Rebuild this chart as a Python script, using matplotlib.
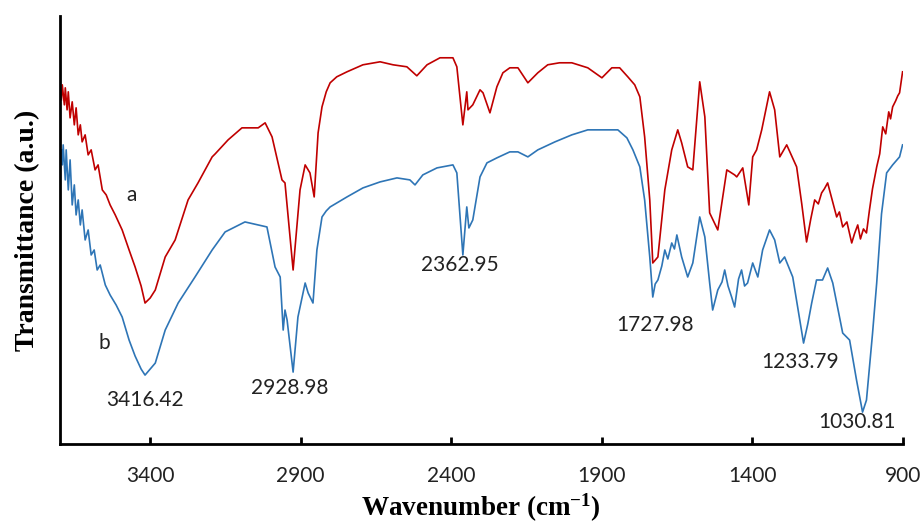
import matplotlib
matplotlib.use("Agg")
import matplotlib.pyplot as plt

# FTIR spectra, transmittance in arbitrary units
wn_a = [3695, 3692, 3685, 3682, 3676, 3672, 3666, 3659, 3652, 3646, 3639, 3632,
        3626, 3616, 3606, 3596, 3583, 3573, 3559, 3546, 3533, 3516, 3493, 3470,
        3450, 3430, 3417, 3400, 3383, 3350, 3317, 3274, 3241, 3194, 3184, 3141,
        3095, 3041, 3018, 2995, 2962, 2952, 2925, 2902, 2885, 2869, 2855, 2842,
        2829, 2815, 2802, 2780, 2746, 2693, 2636, 2593, 2547, 2514, 2480, 2437,
        2394, 2381, 2361, 2348, 2344, 2328, 2304, 2294, 2271, 2248, 2228, 2205,
        2178, 2145, 2112, 2079, 2040, 1999, 1946, 1899, 1866, 1840, 1813, 1790,
        1773, 1757, 1740, 1730, 1713, 1690, 1667, 1647, 1634, 1614, 1597, 1585,
        1574, 1557, 1541, 1514, 1484, 1458, 1451, 1431, 1411, 1398, 1385, 1368,
        1342, 1325, 1308, 1285, 1252, 1235, 1219, 1205, 1192, 1180, 1169, 1160,
        1149, 1135, 1119, 1110, 1099, 1085, 1069, 1060, 1049, 1040, 1030, 1020,
        1010, 1000, 986, 976, 966, 956, 946, 940, 933, 923, 916, 910, 900]
t_a = [344, 359, 339, 356, 334, 352, 326, 342, 319, 336, 309, 319,
       302, 309, 289, 294, 274, 279, 254, 249, 239, 229, 214, 194,
       177, 158, 141, 146, 154, 187, 204, 244, 261, 287, 290, 304,
       316, 316, 321, 307, 264, 261, 174, 254, 279, 271, 247, 311,
       337, 352, 361, 367, 372, 379, 382, 379, 377, 368, 379, 386,
       386, 377, 319, 352, 334, 339, 354, 351, 331, 357, 371, 376,
       376, 361, 371, 379, 381, 381, 376, 366, 376, 376, 367, 359,
       347, 307, 244, 181, 187, 254, 294, 314, 301, 277, 274, 320,
       362, 327, 231, 214, 274, 269, 267, 276, 239, 287, 294, 314,
       352, 334, 287, 299, 277, 240, 202, 225, 244, 240, 251, 255,
       261, 245, 227, 232, 217, 222, 201, 210, 219, 205, 215, 211,
       234, 255, 277, 290, 317, 310, 332, 325, 337, 343, 348, 351, 372]

wn_b = [3695, 3692, 3689, 3682, 3679, 3672, 3666, 3659, 3652, 3646, 3639, 3632,
        3626, 3616, 3606, 3596, 3586, 3576, 3566, 3549, 3533, 3513, 3493, 3470,
        3450, 3430, 3417, 3383, 3350, 3307, 3251, 3194, 3151, 3085, 3041, 3012,
        2985, 2968, 2958, 2952, 2945, 2925, 2909, 2885, 2875, 2859, 2846, 2829,
        2815, 2802, 2746, 2693, 2636, 2580, 2537, 2520, 2494, 2447, 2394, 2381,
        2361, 2348, 2341, 2328, 2304, 2281, 2248, 2205, 2178, 2145, 2112, 2055,
        1999, 1946, 1889, 1846, 1816, 1796, 1773, 1757, 1740, 1730, 1722, 1713,
        1700, 1690, 1680, 1667, 1658, 1650, 1642, 1634, 1614, 1597, 1574, 1557,
        1541, 1531, 1514, 1500, 1491, 1480, 1468, 1458, 1445, 1435, 1425, 1415,
        1398, 1381, 1365, 1342, 1325, 1308, 1292, 1265, 1245, 1229, 1215, 1202,
        1186, 1166, 1149, 1132, 1099, 1076, 1053, 1033, 1020, 1000, 986, 970,
        953, 933, 910, 900]
t_b = [294, 279, 299, 264, 294, 254, 284, 239, 259, 229, 244, 219,
       234, 204, 214, 189, 194, 174, 179, 159, 149, 139, 127, 104,
       88, 75, 69, 81, 114, 141, 167, 194, 212, 222, 219, 217,
       177, 167, 114, 134, 124, 72, 127, 161, 151, 141, 194, 227,
       233, 237, 247, 256, 262, 266, 264, 259, 269, 276, 279, 271,
       189, 237, 216, 224, 267, 281, 286, 292, 292, 287, 294, 302,
       309, 314, 314, 314, 306, 294, 277, 244, 187, 147, 160, 164,
       178, 194, 185, 201, 195, 209, 198, 187, 167, 181, 227, 207,
       161, 134, 154, 162, 174, 158, 147, 137, 165, 174, 158, 161,
       181, 167, 194, 214, 204, 181, 187, 167, 130, 101, 120, 141,
       164, 164, 176, 161, 111, 104, 64, 32, 44, 110, 161, 230,
       271, 279, 287, 299]

peak_wn = [3416.42, 2928.98, 2362.95, 1727.98, 1233.79, 1030.81]
peak_label_pos = [(3417, 44), (2935, 56), (2371, 179), (1723, 119), (1242, 82), (1053, 22)]

red = "#C00000"
blue = "#2E75B6"

plt.rcParams["mathtext.fontset"] = "custom"
plt.rcParams["mathtext.rm"] = "Liberation Serif:bold"
plt.rcParams["mathtext.default"] = "rm"

fig = plt.figure(figsize=(9.21, 5.25), dpi=100)
ax = fig.add_axes([0.065, 0.154, 0.915, 0.816])

ax.plot(wn_a, t_a, color=red, lw=1.2)
ax.plot(wn_b, t_b, color=blue, lw=1.2)

num_font = dict(family="Lato", fontsize=15, color="#222222")
ax.text(3463, 249, "a", ha="center", va="center", **num_font)
ax.text(3553, 101, "b", ha="center", va="center", **num_font)
for w, (x, y) in zip(peak_wn, peak_label_pos):
    ax.text(x, y, "{:.2f}".format(w), ha="center", va="center", **num_font)

ax.set_xlim(3700, 900)
ax.set_ylim(0, 428)
ax.set_xticks([3400, 2900, 2400, 1900, 1400, 900])
ax.set_yticks([])
for s in ["top", "right"]:
    ax.spines[s].set_visible(False)
for s in ["left", "bottom"]:
    ax.spines[s].set_linewidth(2)
ax.tick_params(axis="x", direction="in", length=5, width=2, pad=16,
               labelsize=15, labelcolor="#222222")
for lab in ax.get_xticklabels():
    lab.set_fontfamily("Lato")

ax.set_xlabel("Wavenumber (cm$^{-1}$)", family="Liberation Serif",
              fontweight="bold", fontsize=19.5, labelpad=4)
ax.set_ylabel("Transmittance (a.u.)", family="Liberation Serif",
              fontweight="bold", fontsize=20, labelpad=14)

fig.savefig("out.png", dpi=100)
